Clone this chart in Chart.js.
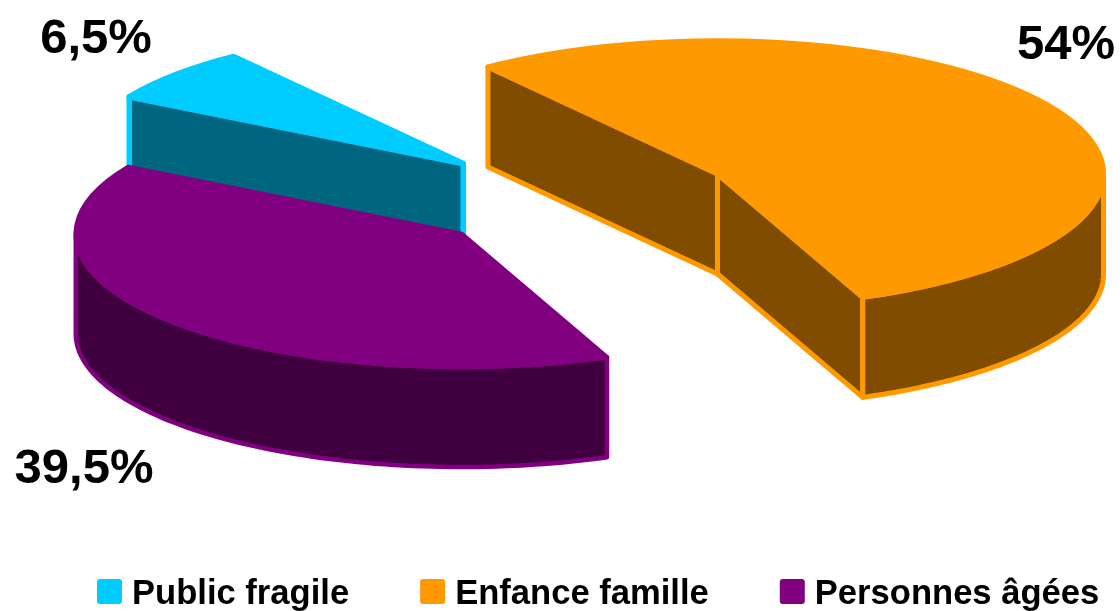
<!DOCTYPE html>
<html>
<head>
<meta charset="utf-8">
<style>html,body{margin:0;padding:0;background:#fff}canvas{display:block}</style>
<script src="https://cdn.jsdelivr.net/npm/chart.js@4"></script>
</head>
<body>
<canvas id="c" width="1120" height="611"></canvas>
<script>
const categories = ['Public fragile', 'Enfance famille', 'Personnes âgées'];
const shares = [6.5, 54, 39.5];
const faceColors = ['#00CCFF', '#FF9900', '#800080'];
const wallColors = ['#006680', '#804D00', '#400040'];
const edgeWidths = [5.5, 5, 4.5];
const explosion = [154, 160, 154];
const lift = [0, 2, 0];
const labelCenters = [[96, 39], [1066, 45], [84, 469]];
const startRotation = -59.9;
const scene = { cx: 578, cy: 199, radius: 386, tilt: 0.345, depth: 100 };
const legendStyle = { left: 97, top: 579, box: 25, gap: 10, space: 71, baseline: 604, font: 'bold 34.6px "Liberation Sans", Arial, sans-serif' };

const pie3d = {
  id: 'pie3d',
  beforeDatasetDraw(chart, args) {
    const ctx = chart.ctx;
    const arcs = args.meta.data;
    const k = scene.tilt, D = scene.depth;
    const geo = arcs.map((el, i) => {
      const p = el.getProps(['x', 'y', 'startAngle', 'endAngle', 'outerRadius'], true);
      const m = (p.startAngle + p.endAngle) / 2;
      return {
        el, p, i,
        ox: scene.cx + Math.cos(m) * explosion[i],
        oy: scene.cy + Math.sin(m) * explosion[i] * k + lift[i]
      };
    });
    const at = (g, a) => [g.ox + Math.cos(a) * g.p.outerRadius, g.oy + Math.sin(a) * g.p.outerRadius * k];
    const paint = (g, pts) => {
      ctx.beginPath();
      pts.forEach((q, n) => n ? ctx.lineTo(q[0], q[1]) : ctx.moveTo(q[0], q[1]));
      ctx.closePath();
      ctx.fillStyle = wallColors[g.i];
      ctx.strokeStyle = faceColors[g.i];
      ctx.lineWidth = edgeWidths[g.i];
      ctx.lineJoin = 'round';
      ctx.fill();
      ctx.stroke();
    };
    // side walls
    geo.forEach(g => {
      const { startAngle: s, endAngle: e } = g.p;
      [s, e].forEach((a, side) => {
        const visible = side === 0 ? Math.cos(a) < 0 : Math.cos(a) > 0;
        if (!visible) return;
        const q = at(g, a);
        paint(g, [[g.ox, g.oy], q, [q[0], q[1] + D], [g.ox, g.oy + D]]);
      });
      // outer wall: the part of the rim on the near side of the ellipse
      const TAU = Math.PI * 2;
      for (let n = -1; n <= 1; n++) {
        const lo = Math.max(s, n * TAU), hi = Math.min(e, n * TAU + Math.PI);
        if (hi <= lo) continue;
        const top = [], bottom = [];
        for (let j = 0; j <= 80; j++) {
          const q = at(g, lo + (hi - lo) * j / 80);
          top.push(q);
          bottom.unshift([q[0], q[1] + D]);
        }
        paint(g, top.concat(bottom));
      }
    });
    // top faces, drawn by the library's own arc elements
    geo.forEach(g => {
      ctx.save();
      ctx.translate(g.ox, g.oy);
      ctx.scale(1, k);
      ctx.translate(-g.p.x, -g.p.y);
      g.el.draw(ctx);
      ctx.restore();
      // outline with an undistorted pen
      ctx.beginPath();
      ctx.moveTo(g.ox, g.oy);
      ctx.ellipse(g.ox, g.oy, g.p.outerRadius, g.p.outerRadius * k, 0, g.p.startAngle, g.p.endAngle);
      ctx.closePath();
      ctx.strokeStyle = faceColors[g.i];
      ctx.lineWidth = edgeWidths[g.i];
      ctx.lineJoin = 'round';
      ctx.stroke();
    });
    return false;
  },
  afterDraw(chart) {
    const ctx = chart.ctx;
    ctx.save();
    ctx.fillStyle = '#000';
    ctx.textAlign = 'center';
    ctx.textBaseline = 'middle';
    ctx.font = 'bold 49px "Liberation Sans", Arial, sans-serif';
    shares.forEach((v, i) => {
      ctx.fillText(String(v).replace('.', ',') + '%', labelCenters[i][0], labelCenters[i][1]);
    });
    // legend
    ctx.font = legendStyle.font;
    ctx.textAlign = 'left';
    ctx.textBaseline = 'alphabetic';
    let x = legendStyle.left;
    categories.forEach((name, i) => {
      ctx.fillStyle = faceColors[i];
      ctx.beginPath();
      ctx.roundRect(x, legendStyle.top, legendStyle.box, legendStyle.box, 3);
      ctx.fill();
      ctx.fillStyle = '#000';
      const tx = x + legendStyle.box + legendStyle.gap;
      ctx.fillText(name, tx, legendStyle.baseline);
      x = tx + ctx.measureText(name).width + legendStyle.space;
    });
    ctx.restore();
  }
};

new Chart(document.getElementById('c'), {
  type: 'pie',
  data: {
    labels: categories,
    datasets: [{
      data: shares,
      backgroundColor: faceColors,
      borderWidth: 0,
      radius: scene.radius
    }]
  },
  options: {
    responsive: false,
    animation: false,
    rotation: startRotation,
    radius: scene.radius,
    events: [],
    plugins: {
      legend: { display: false },
      tooltip: { enabled: false }
    }
  },
  plugins: [pie3d]
});
</script>
</body>
</html>
